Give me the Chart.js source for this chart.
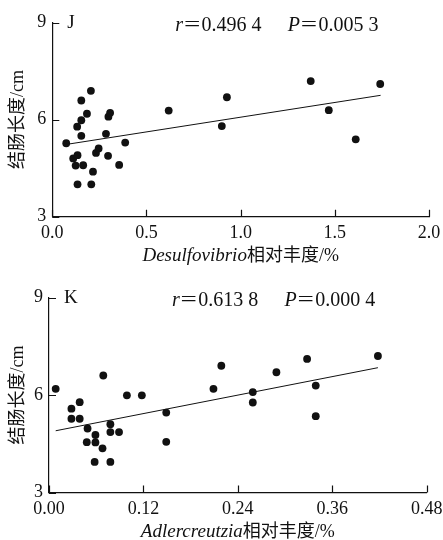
<!DOCTYPE html>
<html><head><meta charset="utf-8">
<script src="https://cdn.jsdelivr.net/npm/chart.js@4/dist/chart.umd.min.js"></script>
<style>
html,body{margin:0;padding:0;background:#fff;}
#wrap{position:relative;width:443px;height:540px;background:#fff;}
.box{position:absolute;left:0;width:443px;height:270px;}
</style></head><body>
<div id="wrap">
<div class="box" style="top:0"><canvas id="cJ" width="443" height="270"></canvas></div>
<div class="box" style="top:270px"><canvas id="cK" width="443" height="270"></canvas></div>
</div>
<script>
// ---- Panel J : Desulfovibrio ----
const desulfoAbund = [0.074,0.111,0.134,0.124,0.164,0.134,0.207,0.216,0.132,0.154,0.154,0.154,0.184,0.205,0.232,0.246,0.285,0.296,0.298,0.307,0.355,0.387,0.618,0.900,0.927,1.372,1.468,1.611,1.741];
const colonLenJ   = [5.27,4.80,4.90,4.58,4.59,4.00,4.00,4.39,5.78,5.50,5.98,6.59,6.18,6.89,4.97,5.11,5.56,4.88,6.09,6.21,4.60,5.29,6.28,5.80,6.69,7.19,6.29,5.39,7.10];
const fitJx = [0.093, 1.743];
const fitJy = [5.25, 6.75];
const xTicksJ = [0, 0.5, 1.0, 1.5, 2.0];
const xLabelsJ = ["0.0","0.5","1.0","1.5","2.0"];
const statsJ = {letter:"J", r:"0.496 4", p:"0.005 3"};
const xTitleJ = ["Desulfovibrio", "相对丰度/%"];

// ---- Panel K : Adlercreutzia ----
const adlerAbund = [0.0085,0.0285,0.0285,0.039,0.039,0.049,0.048,0.059,0.059,0.058,0.068,0.069,0.078,0.078,0.078,0.089,0.099,0.118,0.149,0.149,0.209,0.219,0.259,0.259,0.289,0.328,0.339,0.339,0.418];
const colonLenK  = [6.19,5.58,5.27,5.78,5.27,4.97,4.55,4.77,4.54,3.94,4.36,6.60,5.10,4.86,3.94,4.86,5.99,5.99,5.46,4.56,6.19,6.90,6.09,5.77,6.70,7.11,6.29,5.35,7.20];
const fitKx = [0.0085, 0.418];
const fitKy = [4.90, 6.84];
const xTicksK = [0, 0.12, 0.24, 0.36, 0.48];
const xLabelsK = ["0.00","0.12","0.24","0.36","0.48"];
const statsK = {letter:"K", r:"0.613 8", p:"0.000 4"};
const xTitleK = ["Adlercreutzia", "相对丰度/%"];

// shared y axis
const yTicks = [3, 6, 9];
const yLabels = ["3","6","9"];
const yTitle = "结肠长度/cm";

const SERIF = '"Liberation Serif","Times New Roman","Noto Sans CJK SC",serif';
const INK = '#111';

const decorPlugin = {
  id: 'decor',
  afterDraw(chart, args, opts) {
    const ctx = chart.ctx;
    const ca = chart.chartArea;
    const xs = chart.scales.x, ys = chart.scales.y;
    ctx.save();
    // inward ticks
    ctx.strokeStyle = INK; ctx.lineWidth = 1.2;
    ctx.beginPath();
    xs.ticks.forEach(t => {
      const px = Math.round(xs.getPixelForValue(t.value)) + 0.5;
      ctx.moveTo(px, ca.bottom); ctx.lineTo(px, ca.bottom - 7);
    });
    ys.ticks.forEach(t => {
      const py = Math.round(ys.getPixelForValue(t.value)) + 0.5;
      ctx.moveTo(ca.left, py); ctx.lineTo(ca.left + 7, py);
    });
    ctx.stroke();
    ctx.fillStyle = INK;
    ctx.textBaseline = 'middle';
    // panel letter
    ctx.font = '19px ' + SERIF;
    ctx.textAlign = 'left';
    ctx.fillText(opts.stats.letter, ca.left + 15, ca.top + 1);
    // r and P
    const drawStat = (sym, val, x0) => {
      const y = ca.top + 3;
      ctx.font = 'italic 20px ' + SERIF;
      ctx.textAlign = 'left';
      ctx.fillText(sym, x0, y);
      const w = ctx.measureText(sym).width;
      ctx.font = '20px ' + SERIF;
      const eqW = ctx.measureText('=').width;
      const eqC = x0 + w + 9;
      ctx.save();
      ctx.translate(eqC, y);
      ctx.scale(1.45, 1);
      ctx.textAlign = 'center';
      ctx.fillText('=', 0, 0);
      ctx.restore();
      ctx.textAlign = 'left';
      ctx.fillText(val, eqC + eqW * 0.75 + 1, y);
    };
    drawStat('r', opts.stats.r, ca.left + 123);
    drawStat('P', opts.stats.p, ca.left + 235.5);
    // x axis title (italic genus + normal text)
    const [it, rest] = opts.xTitle;
    ctx.font = 'italic 19px ' + SERIF;
    const w1 = ctx.measureText(it).width;
    ctx.font = '18px ' + SERIF;
    const w2 = ctx.measureText(rest).width;
    const cx = (ca.left + ca.right) / 2;
    const ty = ca.bottom + 39.5;
    let x = cx - (w1 + w2) / 2;
    ctx.textAlign = 'left';
    ctx.font = 'italic 19px ' + SERIF;
    ctx.fillText(it, x, ty);
    ctx.font = '18px ' + SERIF;
    ctx.fillText(rest, x + w1, ty);
    ctx.restore();
  }
};

function makeChart(id, xs, ys, fx, fy, xTicks, xLabels, xMax, stats, xTitle, geom) {
  const pts = xs.map((v, i) => ({x: v, y: ys[i]}));
  const fit = fx.map((v, i) => ({x: v, y: fy[i]}));
  return new Chart(document.getElementById(id), {
    type: 'scatter',
    data: {
      datasets: [
        {data: pts, backgroundColor: INK, borderWidth: 0, pointRadius: 3.9, pointHoverRadius: 3.9},
        {data: fit, showLine: true, borderColor: INK, borderWidth: 1, pointRadius: 0, fill: false}
      ]
    },
    options: {
      responsive: false, animation: false, devicePixelRatio: 1,
      layout: {padding: {top: geom.top, right: geom.right, left: 0, bottom: 0}},
      plugins: {legend: {display: false}, tooltip: {enabled: false},
        decor: {stats: stats, xTitle: xTitle}},
      scales: {
        x: {
          type: 'linear', min: 0, max: xMax,
          afterBuildTicks: s => { s.ticks = xTicks.map(v => ({value: v})); },
          afterFit: s => { s.height = geom.xh; s.paddingLeft = 0; s.paddingRight = 0; },
          grid: {display: false, drawTicks: false},
          border: {display: true, color: INK, width: 1.2},
          ticks: {padding: 6, color: INK, font: {family: SERIF, size: 18},
            maxRotation: 0, autoSkip: false,
            callback: (v, i) => xLabels[i]}
        },
        y: {
          type: 'linear', min: 3, max: 9,
          afterBuildTicks: s => { s.ticks = yTicks.map(v => ({value: v})); },
          afterFit: s => { s.width = geom.yw; s.paddingTop = 0; s.paddingBottom = 0; },
          grid: {display: false, drawTicks: false},
          border: {display: true, color: INK, width: 1.2},
          ticks: {padding: 6, color: INK, font: {family: SERIF, size: 18},
            callback: (v, i) => yLabels[i]},
          title: {display: true, text: yTitle, color: INK,
            font: {family: SERIF, size: 18}, padding: {top: 7.5, bottom: 0}}
        }
      }
    },
    plugins: [decorPlugin]
  });
}

makeChart('cJ', desulfoAbund, colonLenJ, fitJx, fitJy, xTicksJ, xLabelsJ, 2.0, statsJ, xTitleJ,
  {top: 22.5, right: 14, xh: 53.3, yw: 52.3});
makeChart('cK', adlerAbund, colonLenK, fitKx, fitKy, xTicksK, xLabelsK, 0.48, statsK, xTitleK,
  {top: 27.5, right: 16.3, xh: 47.5, yw: 49});
</script>
</body></html>
